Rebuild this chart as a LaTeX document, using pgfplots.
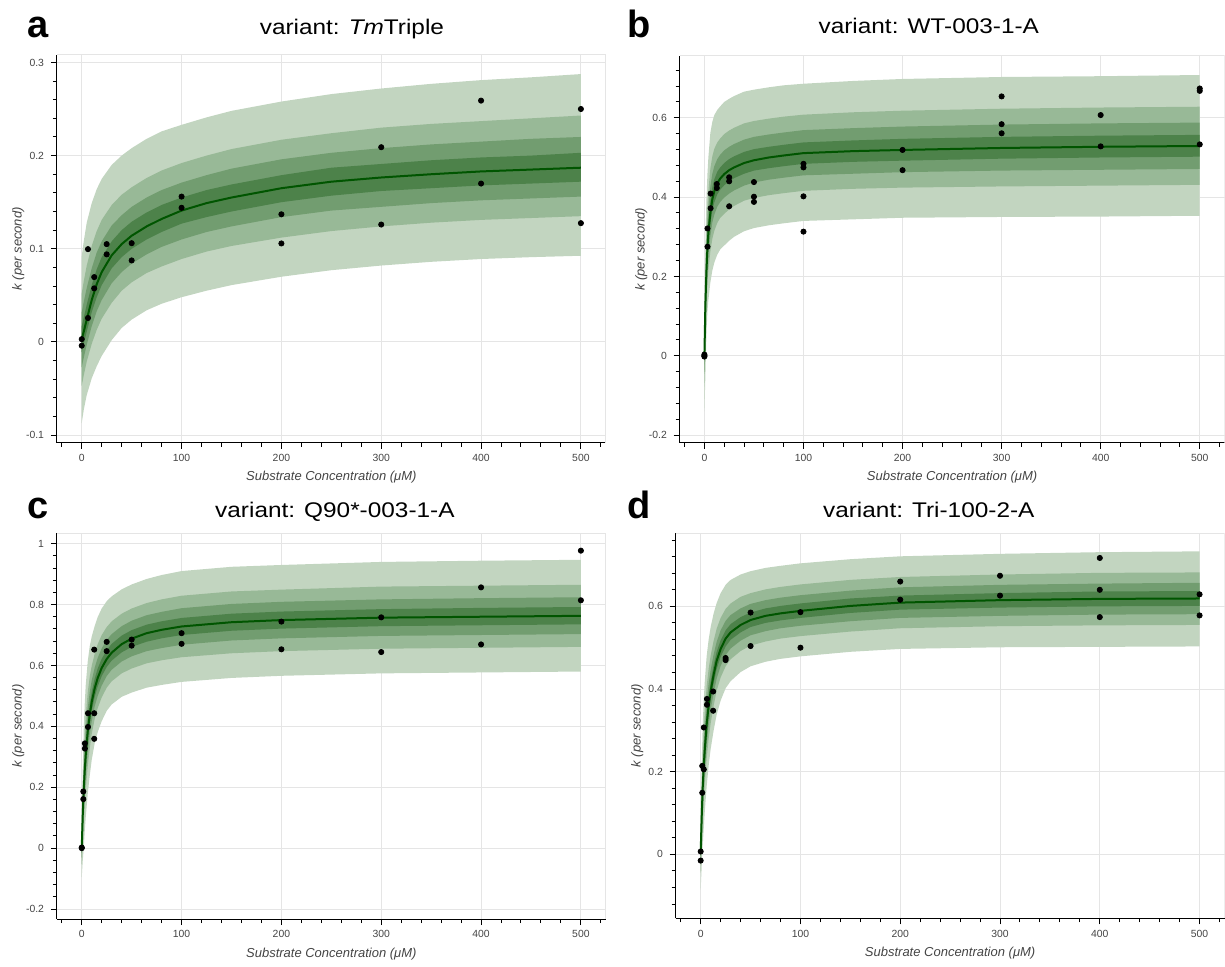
\documentclass[border=0pt]{standalone}
\usepackage{fontspec}
\setmainfont{Liberation Sans}
\newfontfamily\titlefont{Liberation Sans}[FakeStretch=1.15]
\usepackage{pgfplots}
\usepackage{pgfplotstable}
\pgfplotsset{compat=1.18}
\usepgfplotslibrary{fillbetween}

\definecolor{band1}{RGB}{194,213,192}
\definecolor{band2}{RGB}{152,185,151}
\definecolor{band3}{RGB}{114,157,112}
\definecolor{band4}{RGB}{77,130,74}
\definecolor{medgreen}{RGB}{0,85,0}
\definecolor{gridgray}{RGB}{229,229,229}
\definecolor{labelgray}{RGB}{68,68,68}

% percentile bands: l1..l4 lower edges, m median, u4..u1 upper edges
\pgfplotstableread{
x l1 l2 l3 l4 m u4 u3 u2 u1
0 -0.087 -0.047 -0.027 -0.011 0.003 0.017 0.032 0.052 0.092
2 -0.073 -0.036 -0.017 -0.002 0.011 0.026 0.043 0.065 0.108
5 -0.057 -0.021 -0.003 0.011 0.024 0.040 0.058 0.082 0.128
10 -0.039 -0.002 0.017 0.032 0.045 0.061 0.079 0.103 0.149
15 -0.026 0.013 0.033 0.048 0.062 0.078 0.096 0.119 0.164
20 -0.015 0.025 0.045 0.061 0.075 0.091 0.108 0.131 0.175
30 0.002 0.042 0.063 0.079 0.093 0.108 0.125 0.147 0.190
40 0.015 0.055 0.075 0.091 0.105 0.120 0.136 0.158 0.200
50 0.024 0.064 0.084 0.100 0.114 0.129 0.145 0.166 0.208
65 0.034 0.074 0.094 0.110 0.124 0.139 0.155 0.176 0.218
80 0.041 0.081 0.102 0.118 0.132 0.147 0.163 0.184 0.226
100 0.048 0.089 0.110 0.127 0.141 0.155 0.171 0.192 0.233
125 0.055 0.097 0.118 0.134 0.149 0.163 0.179 0.200 0.241
150 0.061 0.103 0.124 0.140 0.155 0.169 0.186 0.207 0.248
200 0.070 0.112 0.134 0.150 0.165 0.179 0.196 0.217 0.258
250 0.077 0.119 0.141 0.157 0.172 0.187 0.203 0.224 0.266
300 0.082 0.124 0.145 0.162 0.1765 0.191 0.208 0.230 0.272
350 0.086 0.128 0.149 0.165 0.180 0.195 0.212 0.234 0.277
400 0.089 0.131 0.152 0.168 0.183 0.198 0.215 0.237 0.281
450 0.091 0.133 0.154 0.170 0.185 0.200 0.218 0.240 0.284
500 0.0925 0.135 0.156 0.172 0.187 0.203 0.220 0.243 0.2875
}\bandA

\pgfplotstableread{
x l1 l2 l3 l4 m u4 u3 u2 u1
0 -0.140 -0.078 -0.046 -0.022 0.000 0.022 0.046 0.078 0.140
1 -0.050 0.030 0.071 0.102 0.130 0.153 0.180 0.213 0.280
2 0.050 0.121 0.157 0.185 0.210 0.238 0.269 0.310 0.390
3 0.110 0.181 0.217 0.245 0.270 0.299 0.331 0.373 0.455
4 0.140 0.216 0.254 0.284 0.310 0.339 0.373 0.415 0.500
6 0.185 0.263 0.302 0.333 0.360 0.391 0.427 0.472 0.562
8 0.215 0.295 0.336 0.367 0.395 0.425 0.459 0.503 0.590
10 0.235 0.315 0.356 0.387 0.415 0.445 0.478 0.522 0.607
13 0.255 0.335 0.376 0.407 0.435 0.464 0.496 0.538 0.620
16 0.268 0.348 0.388 0.419 0.447 0.475 0.507 0.548 0.629
20 0.278 0.358 0.399 0.430 0.458 0.486 0.518 0.559 0.640
25 0.290 0.369 0.409 0.440 0.468 0.496 0.527 0.568 0.648
30 0.300 0.378 0.417 0.448 0.475 0.503 0.534 0.575 0.655
40 0.314 0.391 0.429 0.459 0.486 0.514 0.545 0.586 0.666
50 0.322 0.398 0.437 0.467 0.493 0.521 0.552 0.592 0.671
65 0.329 0.405 0.444 0.473 0.500 0.527 0.558 0.598 0.677
80 0.334 0.410 0.449 0.478 0.505 0.532 0.563 0.603 0.682
100 0.340 0.416 0.455 0.484 0.511 0.538 0.569 0.608 0.686
150 0.344 0.421 0.459 0.489 0.516 0.543 0.574 0.614 0.693
200 0.348 0.424 0.463 0.492 0.519 0.547 0.578 0.618 0.698
300 0.350 0.427 0.467 0.497 0.524 0.552 0.583 0.623 0.703
400 0.351 0.429 0.469 0.500 0.527 0.555 0.586 0.626 0.705
500 0.353 0.431 0.471 0.502 0.529 0.557 0.588 0.628 0.708
}\bandB

\pgfplotstableread{
x l1 l2 l3 l4 m u4 u3 u2 u1
0 -0.095 -0.053 -0.031 -0.015 0.000 0.016 0.033 0.056 0.100
1 -0.041 0.026 0.060 0.086 0.109 0.132 0.159 0.192 0.259
2 0.001 0.086 0.128 0.162 0.191 0.222 0.257 0.302 0.391
3 0.055 0.144 0.189 0.224 0.255 0.289 0.328 0.377 0.475
4 0.101 0.192 0.238 0.274 0.306 0.342 0.382 0.434 0.536
6 0.178 0.269 0.315 0.351 0.383 0.419 0.459 0.511 0.613
8 0.238 0.327 0.372 0.407 0.438 0.473 0.512 0.563 0.663
10 0.290 0.375 0.417 0.451 0.480 0.513 0.551 0.599 0.695
13 0.345 0.425 0.466 0.497 0.525 0.557 0.593 0.639 0.730
16 0.381 0.460 0.500 0.531 0.559 0.590 0.625 0.670 0.759
20 0.417 0.495 0.534 0.565 0.592 0.622 0.656 0.700 0.787
25 0.451 0.527 0.565 0.595 0.621 0.650 0.684 0.726 0.811
30 0.472 0.548 0.586 0.616 0.642 0.671 0.703 0.745 0.827
40 0.497 0.574 0.613 0.643 0.670 0.698 0.729 0.770 0.850
50 0.511 0.590 0.630 0.661 0.688 0.716 0.747 0.787 0.866
65 0.527 0.607 0.647 0.678 0.706 0.734 0.765 0.805 0.884
80 0.536 0.617 0.657 0.689 0.717 0.745 0.776 0.817 0.897
100 0.546 0.627 0.668 0.700 0.728 0.756 0.788 0.829 0.910
150 0.559 0.640 0.682 0.714 0.742 0.770 0.802 0.843 0.924
200 0.566 0.647 0.689 0.721 0.749 0.777 0.809 0.849 0.930
300 0.574 0.655 0.697 0.729 0.757 0.785 0.817 0.859 0.940
400 0.577 0.658 0.700 0.732 0.760 0.789 0.821 0.862 0.944
500 0.580 0.661 0.703 0.735 0.763 0.792 0.824 0.865 0.947
}\bandC

\pgfplotstableread{
x l1 l2 l3 l4 m u4 u3 u2 u1
0 -0.085 -0.045 -0.025 -0.009 0.005 0.019 0.035 0.055 0.095
1 -0.030 0.023 0.050 0.071 0.090 0.110 0.133 0.162 0.220
2 0.020 0.082 0.114 0.138 0.160 0.183 0.210 0.243 0.310
3 0.060 0.127 0.160 0.187 0.210 0.235 0.263 0.299 0.370
4 0.100 0.167 0.200 0.227 0.250 0.276 0.304 0.342 0.415
6 0.165 0.232 0.265 0.292 0.315 0.341 0.369 0.407 0.480
8 0.215 0.280 0.312 0.338 0.360 0.385 0.413 0.449 0.520
10 0.255 0.317 0.349 0.373 0.395 0.419 0.446 0.481 0.550
13 0.300 0.360 0.390 0.414 0.435 0.458 0.484 0.517 0.583
16 0.338 0.396 0.425 0.448 0.468 0.490 0.514 0.546 0.608
20 0.372 0.428 0.456 0.478 0.497 0.518 0.542 0.572 0.632
25 0.402 0.455 0.482 0.503 0.522 0.542 0.565 0.594 0.652
30 0.419 0.472 0.498 0.519 0.537 0.557 0.579 0.607 0.664
40 0.441 0.492 0.517 0.537 0.555 0.574 0.595 0.623 0.677
50 0.455 0.505 0.530 0.550 0.567 0.585 0.606 0.632 0.685
65 0.466 0.515 0.540 0.560 0.577 0.595 0.615 0.641 0.693
80 0.473 0.522 0.547 0.566 0.583 0.601 0.621 0.647 0.698
100 0.479 0.528 0.553 0.572 0.589 0.607 0.627 0.653 0.704
150 0.490 0.539 0.564 0.584 0.601 0.619 0.638 0.664 0.714
200 0.497 0.547 0.572 0.592 0.609 0.626 0.646 0.671 0.721
300 0.501 0.552 0.577 0.597 0.615 0.632 0.652 0.677 0.727
400 0.502 0.554 0.580 0.600 0.618 0.636 0.655 0.681 0.731
500 0.503 0.555 0.581 0.601 0.619 0.637 0.657 0.682 0.733
}\bandD

% measured rates
\pgfplotstableread{
x y
0 0.003
0 -0.004
6.25 0.0996
6.25 0.0257
12.5 0.0696
12.5 0.0575
25 0.105
25 0.094
50 0.106
50 0.0875
100 0.156
100 0.144
200 0.137
200 0.1057
300 0.209
300 0.126
400 0.259
400 0.170
500 0.250
500 0.1275
}\ptsA

\pgfplotstableread{
x y
0 0.000
0 0.003
0 -0.002
3.125 0.321
3.125 0.275
6.25 0.409
6.25 0.372
12.5 0.433
12.5 0.423
25 0.450
25 0.440
25 0.377
50 0.438
50 0.401
50 0.388
100 0.484
100 0.475
100 0.402
100 0.313
200 0.519
200 0.468
300 0.654
300 0.584
300 0.561
400 0.607
400 0.528
500 0.674
500 0.668
500 0.533
}\ptsB

\pgfplotstableread{
x y
0 0.000
0 0.002
1.5625 0.186
1.5625 0.161
3.125 0.344
3.125 0.327
6.25 0.443
6.25 0.398
12.5 0.652
12.5 0.443
12.5 0.359
25 0.6775
25 0.647
50 0.685
50 0.665
100 0.706
100 0.671
200 0.744
200 0.653
300 0.758
300 0.644
400 0.8565
400 0.669
500 0.977
500 0.814
}\ptsC

\pgfplotstableread{
x y
0 0.007
0 -0.015
1.5625 0.214
1.5625 0.149
3.125 0.2056
3.125 0.307
6.25 0.376
6.25 0.362
12.5 0.394
12.5 0.3475
25 0.475
25 0.470
50 0.585
50 0.504
100 0.586
100 0.500
200 0.660
200 0.616
300 0.674
300 0.626
400 0.717
400 0.640
400 0.574
500 0.629
500 0.578
}\ptsD

\newcommand{\drawbands}[1]{%
  \addplot[name path=u1, draw=none] table[x=x, y=u1] {#1};
  \addplot[name path=l1, draw=none] table[x=x, y=l1] {#1};
  \addplot[band1, draw=none] fill between[of=u1 and l1];
  \addplot[name path=u2, draw=none] table[x=x, y=u2] {#1};
  \addplot[name path=l2, draw=none] table[x=x, y=l2] {#1};
  \addplot[band2, draw=none] fill between[of=u2 and l2];
  \addplot[name path=u3, draw=none] table[x=x, y=u3] {#1};
  \addplot[name path=l3, draw=none] table[x=x, y=l3] {#1};
  \addplot[band3, draw=none] fill between[of=u3 and l3];
  \addplot[name path=u4, draw=none] table[x=x, y=u4] {#1};
  \addplot[name path=l4, draw=none] table[x=x, y=l4] {#1};
  \addplot[band4, draw=none] fill between[of=u4 and l4];
  \addplot[medgreen, line width=1pt] table[x=x, y=m] {#1};
}
\newcommand{\drawpts}[1]{%
  \addplot[only marks, mark=*, mark size=1.3pt, black] table[x=x, y=y] {#1};
}
\newcommand{\outline}{%
  \draw[gridgray, line width=0.5pt] (rel axis cs:0,1) -- (rel axis cs:1,1) -- (rel axis cs:1,0);
}

\pgfplotsset{
  kin/.style={
    scale only axis,
    anchor=south west,
    xmin=-25, xmax=525,
    axis lines=left,
    axis line style={-, black, line width=0.5pt},
    tick align=outside,
    major tick length=3pt,
    minor tick length=2pt,
    every tick/.style={black, line width=0.5pt},
    xtick={0,100,...,500},
    minor xtick={-20,0,...,520},
    grid=major,
    major grid style={gridgray, line width=0.5pt},
    /pgf/number format/assume math mode=true,
    tick label style={font=\fontsize{5.2}{6}\selectfont, text=labelgray},
    xticklabel style={anchor=base, inner sep=0pt, yshift=-6.3pt},
    yticklabel style={anchor=east, inner sep=0pt, xshift=-3.2pt},
    every axis x label/.style={at={(axis description cs:0.5,0)}, anchor=base, yshift=-19pt,
      font=\fontsize{6.5}{8}\selectfont\itshape, text=labelgray},
    every axis y label/.style={at={(axis description cs:0,0.5)}, xshift=-19.25pt, rotate=90, anchor=center,
      font=\fontsize{6.5}{8}\selectfont\itshape, text=labelgray},
    xlabel={Substrate Concentration (μM)},
    ylabel={k (per second)},
  },
}
\tikzset{
  ptitle/.style={inner sep=0pt, anchor=base, font=\titlefont\fontsize{10.6}{13}\selectfont},
  pletter/.style={inner sep=0pt, anchor=base west, font=\fontsize{19}{22}\selectfont\bfseries},
}

\begin{document}
\begin{tikzpicture}

\begin{axis}[kin, at={(28.4pt,259.15pt)}, width=274.6pt, height=193.85pt,
  ymin=-0.108, ymax=0.308, ytick={-0.1,0,0.1,0.2,0.3}, minor ytick={-0.1,-0.08,...,0.3}]
\drawbands{\bandA}
\drawpts{\ptsA}
\outline
\end{axis}

\begin{axis}[kin, at={(339.9pt,259.15pt)}, width=272.5pt, height=193.35pt,
  ymin=-0.219, ymax=0.756, ytick={-0.2,0,0.2,0.4,0.6}, minor ytick={-0.2,-0.16,...,0.72}]
\drawbands{\bandB}
\drawpts{\ptsB}
\outline
\end{axis}

\begin{axis}[kin, at={(28.4pt,20.85pt)}, width=274.6pt, height=193pt,
  ymin=-0.233, ymax=1.0345, ytick={-0.2,0,0.2,0.4,0.6,0.8,1}, minor ytick={-0.2,-0.16,...,1.0}]
\drawbands{\bandC}
\drawpts{\ptsC}
\outline
\end{axis}

\begin{axis}[kin, at={(337.95pt,21.15pt)}, width=274.45pt, height=192.7pt,
  ymin=-0.155, ymax=0.777, ytick={0,0.2,0.4,0.6}, minor ytick={-0.12,-0.08,...,0.76}]
\drawbands{\bandD}
\drawpts{\ptsD}
\outline
\end{axis}

\node[pletter] at (13.5pt,461.5pt) {a};
\node[pletter] at (313.7pt,461.85pt) {b};
\node[pletter] at (13.5pt,221.35pt) {c};
\node[pletter] at (313.7pt,221.35pt) {d};

\node[ptitle] at (176pt,463.25pt) {variant: \textit{Tm}Triple};
\node[ptitle] at (464.5pt,463.5pt) {variant: WT-003-1-A};
\node[ptitle] at (167.5pt,221.5pt) {variant: Q90*-003-1-A};
\node[ptitle] at (464.5pt,221.5pt) {variant: Tri-100-2-A};

\path (0,0) rectangle (612.5pt,480.5pt);
\end{tikzpicture}
\end{document}
